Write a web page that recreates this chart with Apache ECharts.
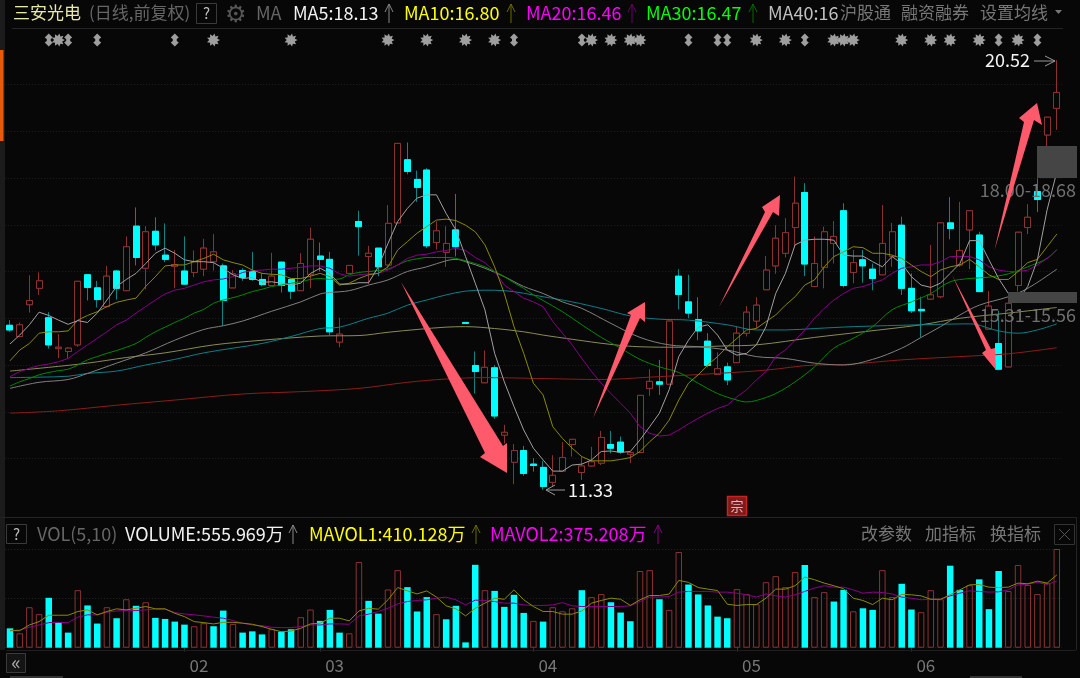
<!DOCTYPE html>
<html><head><meta charset="utf-8">
<style>html,body{margin:0;padding:0;background:#070707}#c{width:1080px;height:678px}</style>
<script src="https://cdn.jsdelivr.net/npm/echarts@6/dist/echarts.min.js"></script></head>
<body><div id="c"></div>
<script>
const open=[14.85,14.61,15.29,15.64,15.01,14.35,14.29,14.43,15.93,15.65,15.25,16.01,15.59,16.97,16.07,16.86,16.35,16.11,16.01,15.98,16.05,16.21,16.12,15.65,16.02,16.00,15.83,15.70,16.20,15.83,15.59,15.94,16.33,16.26,14.49,15.96,17.07,16.32,16.50,16.14,17.04,18.39,17.97,18.17,16.62,16.41,16.89,14.91,13.99,13.62,13.94,12.50,11.92,12.17,11.88,11.81,11.49,11.73,12.30,11.70,11.84,11.90,12.30,12.35,12.09,12.13,13.50,13.64,13.59,15.90,15.35,14.97,14.51,13.80,13.96,14.05,14.68,14.94,15.61,16.12,16.39,16.94,17.69,15.68,16.09,16.60,17.30,15.98,16.25,16.05,15.93,16.32,16.99,15.64,15.19,15.41,15.46,17.04,16.14,16.89,16.78,14.77,14.46,13.96,15.70,16.94,17.71,18.92,19.49];
const close=[14.75,14.86,15.38,15.80,14.43,14.38,14.36,15.79,15.66,15.40,15.90,15.64,16.53,16.30,16.85,16.57,16.26,16.15,15.73,16.21,16.50,16.42,15.38,15.95,15.87,15.83,15.72,15.90,15.70,15.58,16.17,16.69,16.26,14.71,14.66,16.13,16.96,16.39,16.10,17.03,18.74,18.14,17.80,16.55,16.87,16.60,16.53,14.89,13.86,13.95,12.91,12.56,12.17,11.68,11.85,11.40,11.64,12.02,12.41,11.84,11.93,12.45,12.22,12.14,12.13,13.35,13.65,13.59,14.94,15.51,15.11,14.73,13.99,13.92,13.68,14.68,15.13,15.28,16.03,16.71,16.83,17.46,16.16,16.17,16.85,16.75,15.70,16.19,16.12,15.85,16.60,16.85,15.64,15.16,15.16,15.50,17.04,16.92,16.45,17.30,15.57,15.26,13.91,15.32,16.84,17.16,17.54,19.30,19.83];
const high=[14.96,14.91,15.92,15.98,15.13,14.66,14.38,15.79,15.93,15.80,16.12,16.03,16.75,17.37,16.97,17.16,17.03,16.46,16.75,16.45,16.70,16.80,16.17,16.03,16.07,16.42,15.96,16.40,16.21,15.85,16.39,16.94,16.62,16.42,15.01,16.13,17.30,16.55,16.50,17.42,18.74,18.76,18.16,18.21,17.07,16.97,17.66,14.91,14.29,14.31,14.00,12.72,12.31,12.27,12.01,11.95,12.07,12.35,12.41,12.04,12.25,12.59,12.59,12.47,12.13,13.35,13.91,14.11,14.94,16.05,15.93,15.45,14.68,14.27,14.05,14.82,15.26,15.45,16.33,16.99,17.14,18.03,17.89,16.75,16.96,17.08,17.46,16.46,16.46,16.17,17.42,17.04,17.17,15.96,15.46,16.57,17.04,17.59,17.49,17.30,16.85,15.58,15.16,15.32,16.84,17.44,17.99,19.30,20.52];
const low=[14.71,14.59,15.12,15.50,14.35,14.15,14.14,14.39,15.38,15.23,15.23,15.40,15.59,16.13,15.62,16.45,16.20,15.64,15.71,15.88,15.90,16.02,14.84,15.65,15.80,15.80,15.68,15.69,15.55,15.41,15.59,15.64,16.00,14.64,14.38,15.96,16.34,15.73,15.90,16.07,17.04,18.08,17.49,16.50,16.47,16.10,16.32,14.89,13.39,13.62,12.85,12.32,11.45,11.63,11.72,11.33,11.40,11.73,12.04,11.54,11.83,11.86,12.11,12.10,11.90,12.13,13.34,13.36,13.59,15.19,15.00,14.53,13.95,13.80,13.57,14.05,14.61,14.78,15.61,15.95,16.30,16.53,15.90,15.68,15.64,16.17,15.66,15.75,15.76,15.60,15.93,16.10,15.50,15.11,14.59,15.41,15.43,16.69,16.10,16.05,15.57,14.77,13.89,13.96,15.57,16.80,17.27,18.67,19.03];

const ma5=[14.45,14.64,14.86,15.13,15.06,14.96,14.87,14.95,14.91,15.11,15.39,15.68,15.83,15.96,16.17,16.39,16.50,16.39,16.25,16.21,16.21,16.19,16.07,15.93,15.85,15.87,15.77,15.78,15.75,15.71,15.75,15.96,16.07,15.96,15.73,15.73,15.76,15.76,16.10,16.60,17.07,17.35,17.57,17.64,17.64,17.24,16.89,16.32,15.75,15.18,14.25,13.64,13.11,12.61,12.22,11.97,11.73,11.73,11.86,11.88,11.97,12.15,12.16,12.13,12.15,12.40,12.68,12.97,13.47,14.18,14.53,14.81,14.86,14.64,14.32,14.21,14.25,14.43,14.82,15.53,15.96,16.57,16.67,16.69,16.69,16.67,16.35,16.33,16.33,16.21,16.10,16.32,16.17,15.89,15.71,15.66,15.75,15.96,16.17,16.66,16.66,16.25,15.85,15.53,15.38,15.68,16.25,17.32,18.13];
const ma10=[14.09,14.32,14.46,14.68,14.71,14.71,14.73,14.96,15.06,15.14,15.25,15.34,15.39,15.43,15.68,15.89,16.12,16.14,16.14,16.21,16.28,16.37,16.25,16.19,16.14,16.03,15.96,15.94,15.93,15.85,15.85,15.90,15.96,15.89,15.71,15.75,15.85,15.93,15.96,16.10,16.46,16.64,16.82,16.96,17.10,17.12,17.09,16.99,16.85,16.57,16.10,15.53,14.82,14.25,13.61,13.36,12.68,12.43,12.22,12.04,11.95,11.95,11.95,11.98,12.02,12.15,12.36,12.54,12.82,13.25,13.61,13.79,14.00,14.18,14.39,14.57,14.75,14.78,14.93,15.07,15.28,15.46,15.71,15.82,16.10,16.32,16.42,16.53,16.51,16.39,16.39,16.35,16.28,16.14,16.00,15.89,16.03,16.10,16.14,16.26,16.10,15.93,15.83,15.83,16.00,16.19,16.26,16.53,16.80];
const ma20=[13.75,13.86,13.93,13.99,14.02,14.07,14.14,14.29,14.43,14.57,14.71,14.86,14.96,15.11,15.25,15.39,15.52,15.60,15.64,15.71,15.78,15.82,15.84,15.89,15.98,16.02,16.03,16.05,16.05,16.07,16.09,16.12,16.12,16.07,15.95,15.90,15.93,15.95,15.96,16.03,16.14,16.28,16.35,16.37,16.42,16.45,16.50,16.45,16.30,16.19,16.00,15.71,15.57,15.43,15.35,15.25,14.93,14.68,14.43,14.14,13.86,13.61,13.39,13.18,12.97,12.68,12.54,12.48,12.50,12.61,12.74,12.86,12.97,13.07,13.14,13.32,13.47,13.68,13.86,14.18,14.32,14.53,14.75,15.00,15.21,15.39,15.53,15.64,15.68,15.75,15.82,15.96,16.07,16.10,16.14,16.14,16.21,16.32,16.32,16.32,16.25,16.10,16.03,16.00,16.00,16.03,16.14,16.28,16.46];
const ma30=[[0,13.55],[1,13.64],[2,13.71],[3,13.79],[4,13.84],[5,13.88],[6,13.91],[7,14.00],[8,14.11],[9,14.18],[10,14.25],[11,14.31],[12,14.38],[13,14.46],[14,14.59],[15,14.71],[16,14.81],[17,14.91],[18,15.00],[19,15.11],[20,15.19],[21,15.32],[22,15.39],[23,15.44],[24,15.50],[25,15.57],[26,15.62],[27,15.68],[28,15.71],[29,15.75],[30,15.78],[31,15.83],[32,15.85],[33,15.83],[34,15.84],[35,15.93],[36,15.98],[37,16.00],[38,16.02],[39,16.05],[40,16.14],[41,16.23],[42,16.27],[43,16.30],[44,16.30],[45,16.30],[46,16.28],[47,16.23],[48,16.17],[49,16.10],[50,16.00],[51,15.89],[52,15.76],[53,15.64],[54,15.50],[55,15.38],[57,15.14],[59,14.86],[61,14.59],[63,14.36],[65,14.12],[67,13.96],[69,13.84],[71,13.61],[73,13.39],[75,13.25],[76,13.21],[77,13.24],[79,13.39],[81,13.64],[83,13.96],[85,14.36],[87,14.57],[89,14.82],[91,15.18],[93,15.35],[95,15.53],[97,15.78],[99,15.85],[101,15.88],[103,15.95],[105,16.10],[107,16.28],[108,16.47]];
const ma40=[[0,13.50],[3,13.63],[6,13.69],[8,13.82],[11,14.04],[14,14.26],[17,14.53],[20,14.76],[22,14.84],[24,14.94],[27,15.15],[30,15.35],[32,15.52],[33,15.55],[35,15.59],[37,15.71],[39,15.82],[41,16.00],[43,16.10],[45,16.23],[46,16.26],[47,16.21],[49,16.07],[51,15.89],[53,15.68],[55,15.53],[57,15.35],[59,15.21],[62,14.89],[65,14.59],[68,14.43],[71,14.39],[74,14.32],[77,14.18],[80,14.14],[83,14.04],[86,14.00],[89,14.12],[92,14.36],[94,14.59],[96,14.82],[98,15.07],[100,15.28],[103,15.46],[105,15.64],[108,16.05]];
const ma60=[[0,13.73],[3,13.74],[6,13.76],[8,13.82],[11,13.87],[14,14.00],[17,14.12],[20,14.26],[23,14.36],[26,14.46],[29,14.61],[32,14.78],[34,14.81],[37,15.00],[39,15.11],[41,15.28],[43,15.39],[45,15.50],[47,15.58],[49,15.60],[51,15.59],[55,15.46],[58,15.35],[61,15.21],[64,15.05],[67,14.98],[70,14.96],[74,14.86],[77,14.75],[80,14.75],[83,14.78],[87,14.82],[94,14.86],[99,14.88],[102,14.73],[104,14.68],[106,14.75],[108,14.88]];
const ma120=[[0,13.87],[4,13.95],[8,14.04],[12,14.16],[16,14.26],[21,14.43],[26,14.53],[29,14.58],[32,14.62],[36,14.63],[39,14.70],[42,14.76],[45,14.81],[47,14.82],[50,14.78],[53,14.71],[55,14.64],[58,14.55],[62,14.44],[65,14.39],[69,14.38],[74,14.41],[77,14.43],[83,14.59],[88,14.71],[94,14.86],[98,15.00],[103,15.11],[108,15.23]];
const ma250=[[0,12.97],[5,13.02],[11,13.14],[17,13.25],[24,13.38],[30,13.43],[36,13.50],[41,13.63],[45,13.70],[49,13.73],[55,13.71],[61,13.69],[66,13.74],[73,13.82],[78,13.89],[83,14.00],[86,14.01],[92,14.11],[98,14.18],[103,14.24],[108,14.37]];

const volume=[109,81,228,189,281,143,85,324,238,136,228,166,273,236,256,168,162,147,130,121,138,121,209,134,85,92,75,104,90,104,172,215,151,213,85,81,483,264,192,328,437,341,204,285,189,160,236,30,467,324,320,230,298,196,151,147,228,205,222,324,285,302,256,198,149,432,437,273,213,539,356,300,238,175,166,330,302,245,369,403,341,426,466,285,313,260,326,205,222,213,437,285,360,215,200,324,273,462,326,352,385,217,432,319,466,354,302,364,556];
const volDownIdx=[0,4,5,6,8,9,11,13,15,16,17,18,21,22,24,25,26,28,29,32,33,34,37,38,41,42,43,45,46,47,48,50,51,52,53,55,59,62,63,64,67,70,71,72,73,74,82,85,86,88,89,92,93,97,98,100,101,102];
const mavol1=[96,96,128,147,183,183,183,204,213,185,204,219,213,222,232,219,219,194,175,147,141,134,143,143,138,132,119,104,90,94,109,134,138,166,166,151,207,222,217,270,339,320,303,320,285,236,219,179,222,251,279,273,326,270,232,204,204,189,189,207,251,266,279,273,238,270,294,294,302,379,368,339,330,322,245,238,243,243,279,330,330,349,398,383,364,349,332,279,266,243,279,270,300,298,292,273,273,298,326,354,356,341,339,341,364,360,375,364,410];
const mavol2=[96,100,115,128,141,143,141,172,185,185,200,207,209,209,213,217,217,198,190,185,179,172,166,153,138,128,124,115,113,113,119,128,128,134,134,132,179,189,204,222,247,260,266,270,279,285,270,241,268,266,260,251,251,241,238,238,241,254,236,232,232,232,232,232,236,260,285,285,288,313,317,317,317,313,313,307,298,285,303,292,285,298,317,336,349,341,341,326,307,313,311,303,285,279,270,273,273,292,307,320,317,313,315,326,354,358,368,356,375];

const monthTicks={18:'02',32:'03',54:'04',75:'05',93:'06'};
const starIdx=[5,21,29,39,43,47,50,60,62,64,65,77,80,85,86,87,92,95,97,100,104];
const updownIdx=[4,6,9,17,52,59,70,73,74,82,102,106];
const markerLevel=20.95;

const FONT='"Noto Sans CJK SC","Noto Sans",sans-serif';
const BG='#070707',RED='#8c3232',CY='#00ffff',TEAL='#0b8586',GRID='#1f1f1f';
const cats=open.map((_,i)=>String(i));
function burst(k){let s='path://';for(let j=0;j<k*2;j++){const r=j%2?6.2:10,a=Math.PI*j/k;s+=(j?'L':'M')+(10+r*Math.cos(a)).toFixed(2)+' '+(10+r*Math.sin(a)).toFixed(2)+' ';}return s+'Z';}
const updownPath='path://M4 0 L8 4 L6 5.5 L6 7.5 L8 9 L4 13 L0 9 L2 7.5 L2 5.5 L0 4 Z';

const T=(text,x,y,fill,size,align)=>({type:'text',z:20,style:{text,x,y,fill,font:size+'px '+FONT,align:align||'left',verticalAlign:'middle'}});
const L=(pts,stroke,w)=>({type:'polyline',z:20,shape:{points:pts},style:{stroke,fill:null,lineWidth:w||1}});
const R=(x,y,w,h,fill,stroke)=>({type:'rect',z:19,shape:{x,y,width:w,height:h},style:{fill:fill||'none',stroke:stroke||null,lineWidth:1}});
const P=(pts)=>({type:'polygon',z:30,shape:{points:pts},style:{fill:'#ff5a6b'}});
const up=(x,c)=>[L([[x,23],[x,4]],c),L([[x-4,12],[x,4],[x+4,12]],c)];
const upV=(x,c)=>[L([[x,544],[x,525]],c),L([[x-4,533],[x,525],[x+4,533]],c)];

const graphics=[
 R(0,0,5,650,'#1b1b1b'),R(0,50,3.5,91,'#e85a0a'),
 L([[12,28.5],[1063,28.5]],'#242424'),
 L([[0,517.5],[1076,517.5]],'#242424'),L([[1076.5,517],[1076.5,650]],'#242424'),
 L([[6,650.5],[1076,650.5]],'#1e1e1e'),
 T('三安光电',13,13,'#e9e9a8',17),T('(日线,前复权)',89,13,'#666666',17),
 R(196.5,3.5,20,20,null,'#3a3a3a'),T('?',206.5,13.5,'#bbbbbb',15,'center'),
 T('⚙',236,13,'#555555',24,'center'),T('MA',256,13,'#666666',18),
 T('MA5:18.13',293,13,'#f2f2f2',18),...up(389,'#888888'),
 T('MA10:16.80',404,13,'#ffff00',18),...up(511,'#6a6a00'),
 T('MA20:16.46',526,13,'#ff00ff',18),...up(632,'#6a006a'),
 T('MA30:16.47',646,13,'#00ff00',18),...up(753,'#006a00'),
 T('MA40:16',768,13,'#c0c0c0',18),T('沪股通',840,13,'#777777',17),T('融资融券',901,13,'#777777',17),T('设置均线',980,13,'#777777',17),
 {type:'polygon',z:20,shape:{points:[[1055,10],[1062,10],[1058.5,14]]},style:{fill:'#777777'}},
 R(1037,146,40,32,'#454545'),T('18.00-18.68',1076,190,'#707070',18,'right'),
 R(1008,292,69,11,'#454545'),T('15.31-15.56',1076,315,'#707070',18,'right'),
 T('20.52',1030,60,'#f5f5f5',18,'right'),L([[1034,61],[1055,61]],'#999999'),L([[1045,56],[1055,61],[1045,66]],'#999999'),
 T('11.33',568,490,'#f5f5f5',18),L([[546,490],[565,490]],'#999999'),L([[555,485],[546,490],[555,495]],'#999999'),
 P([[401,282],[485,453],[480,457],[507,473],[507,443],[503,446]]),
 P([[593,418],[631,315],[627,313],[645,302],[645,322],[640,318]]),
 P([[719,307],[765,212],[762,207],[780,195],[779,216],[773,212]]),
 P([[952,275],[986,350],[982,353],[996,370],[995,348],[991,349]]),
 P([[994.5,250],[1024,122],[1019,118],[1037,103],[1042,125],[1034,120]]),
 {type:'rect',z:25,shape:{x:727.5,y:496.5,width:19,height:19},style:{fill:'#7d1a1a',stroke:'#c92222',lineWidth:1.5}},
 {type:'text',z:26,style:{text:'宗',x:737,y:506,fill:'#e4b8b8',font:'13px '+FONT,align:'center',verticalAlign:'middle'}},
 R(6.5,524.5,20,19,null,'#3a3a3a'),T('?',16.5,534.5,'#bbbbbb',15,'center'),
 T('VOL(5,10)',37,534,'#666666',18),T('VOLUME:555.969万',125,534,'#f2f2f2',18),...upV(293,'#888888'),
 T('MAVOL1:410.128万',309,534,'#ffff00',18),...upV(476,'#6a6a00'),
 T('MAVOL2:375.208万',490,534,'#ff00ff',18),...upV(658,'#8a008a'),
 T('改参数',861,534,'#777777',17),T('加指标',925,534,'#777777',17),T('换指标',990,534,'#777777',17),
 R(1054.5,524.5,20,20,null,'#333333'),L([[1059,529],[1070,540]],'#555555'),L([[1070,529],[1059,540]],'#555555'),
 R(6.5,653.5,19,19,'#141414','#3a3a3a'),T('«',16,662,'#aaaaaa',20,'center'),
 R(10,676,53,2,'#333333'),R(970,676,52,2,'#333333')
];

const kData=open.map((o,i)=>[o,close[i],low[i],high[i]]);
const bodyData=open.map((o,i)=>[o,close[i],Math.min(o,close[i]),Math.max(o,close[i])]);
const line=(name,data,color,smooth)=>({name,type:'line',xAxisIndex:0,yAxisIndex:0,data,symbol:'none',smooth:smooth?0.35:false,z:5,silent:true,lineStyle:{color,width:1}});
const downSet=new Set(volDownIdx);

const option={
 animation:false,backgroundColor:BG,
 grid:[{left:5.15,width:1056.5,top:37.75,height:467.5},{left:5.15,width:1056.5,top:549,height:98.7}],
 xAxis:[
  {type:'category',gridIndex:0,data:cats,boundaryGap:true,axisLine:{show:false},axisTick:{show:false},axisLabel:{show:false},splitLine:{show:false}},
  {type:'category',gridIndex:1,data:cats,boundaryGap:true,axisLine:{show:false},
   axisTick:{show:true,alignWithLabel:true,interval:(i)=>!!monthTicks[i],length:4,lineStyle:{color:'#333333'}},
   axisLabel:{show:true,interval:(i)=>!!monthTicks[i],formatter:(v,i)=>monthTicks[i]||'',color:'#777777',fontSize:17,fontFamily:FONT,align:'left',padding:[0,0,0,5],margin:9},splitLine:{show:false}}
 ],
 yAxis:[
  {type:'value',gridIndex:0,min:11,max:21,interval:1,axisLine:{show:false},axisTick:{show:false},axisLabel:{show:false},
   splitLine:{show:true,showMinLine:false,showMaxLine:false,lineStyle:{color:GRID,type:[1,2],width:1}}},
  {type:'value',gridIndex:1,min:0,max:556,interval:278,axisLine:{show:false},axisTick:{show:false},axisLabel:{show:false},
   splitLine:{show:true,lineStyle:{color:'#262626',type:[1,2],width:1}}}
 ],
 series:[
  {type:'candlestick',xAxisIndex:0,yAxisIndex:0,data:kData,barWidth:6.5,z:2,silent:true,
   itemStyle:{color:BG,color0:CY,borderColor:RED,borderColor0:TEAL,borderWidth:1}},
  {type:'candlestick',xAxisIndex:0,yAxisIndex:0,data:bodyData,barWidth:6.5,z:3,silent:true,
   itemStyle:{color:BG,color0:CY,borderColor:RED,borderColor0:CY,borderWidth:1}},
  line('MA250',ma250,'#8b1c1c',true),line('MA120',ma120,'#8a8a58',true),line('MA60',ma60,'#0b7f86',true),
  line('MA40',ma40,'#808080',true),line('MA30',ma30,'#008a00',true),line('MA20',ma20,'#8a008a'),
  line('MA10',ma10,'#8a8a00'),line('MA5',ma5,'#a0a0a0'),
  {type:'scatter',xAxisIndex:0,yAxisIndex:0,data:starIdx.map(i=>[i,markerLevel]),symbol:burst(9),symbolSize:13,itemStyle:{color:'#c4c4c4'},z:6,silent:true},
  {type:'scatter',xAxisIndex:0,yAxisIndex:0,data:updownIdx.map(i=>[i,markerLevel]),symbol:updownPath,symbolSize:[8,13],itemStyle:{color:'#c4c4c4'},z:6,silent:true},
  {type:'bar',xAxisIndex:1,yAxisIndex:1,barWidth:6.5,silent:true,z:2,
   data:volume.map((v,i)=>({value:v,itemStyle:downSet.has(i)?{color:CY}:{color:'rgba(0,0,0,0)',borderColor:RED,borderWidth:1}}))},
  {type:'line',xAxisIndex:1,yAxisIndex:1,data:mavol2,symbol:'none',z:5,silent:true,lineStyle:{color:'#8a008a',width:1}},
  {type:'line',xAxisIndex:1,yAxisIndex:1,data:mavol1,symbol:'none',z:6,silent:true,lineStyle:{color:'#8a8a00',width:1}}
 ],
 graphic:graphics
};
const chart=echarts.init(document.getElementById('c'),null,{renderer:'canvas',width:1080,height:678});
chart.setOption(option);
</script></body></html>
